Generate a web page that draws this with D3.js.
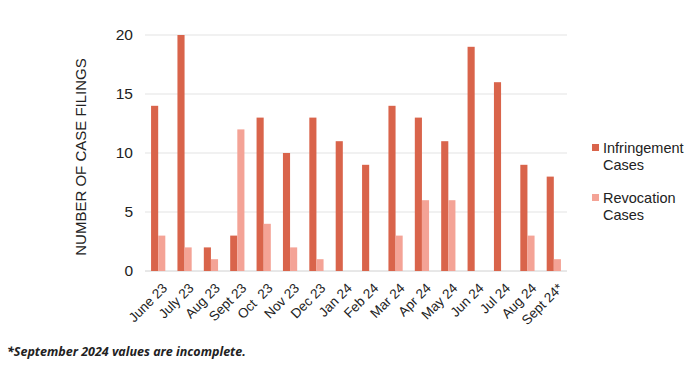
<!DOCTYPE html>
<html>
<head>
<meta charset="utf-8">
<script src="https://cdn.jsdelivr.net/npm/d3@7"></script>
<style>
  body { margin: 0; background: #fff; }
  text { font-family: Arial, "Liberation Sans", sans-serif; fill: #222; }
</style>
</head>
<body>
<div id="chart"></div>
<script>
"use strict"
// Data
var months = ["June 23", "July 23", "Aug 23", "Sept 23", "Oct  23", "Nov 23", "Dec 23", "Jan 24",
              "Feb 24", "Mar 24", "Apr 24", "May 24", "Jun 24", "Jul 24", "Aug 24", "Sept 24*"];
var infringement = [14, 20, 2, 3, 13, 10, 13, 11, 9, 14, 13, 11, 19, 16, 9, 8];
var revocation = [3, 2, 1, 12, 4, 2, 1, 0, 0, 3, 6, 6, 0, 0, 3, 1];
var seriesNames = ["Infringement Cases", "Revocation Cases"];
var yTicks = [0, 5, 10, 15, 20];

var width = 700, height = 371;
var margin = {top: 35, right: 133, bottom: 100, left: 145};
var colors = ["#d9644b", "#f4a396"];

var svg = d3.select("#chart").append("svg")
    .attr("width", width)
    .attr("height", height);

var g = svg.append("g")
    .attr("transform", "translate(" + margin.left + "," + margin.top + ")");

var drawWidth = width - margin.left - margin.right;  // 422
var drawHeight = 271 - margin.top;

var xScale = d3.scaleBand().domain(months).range([0, drawWidth]).paddingInner(0.46).paddingOuter(0.23);
var xSub = d3.scaleBand().domain([0, 1]).range([0, xScale.bandwidth()]);
var yScale = d3.scaleLinear().domain([0, 20]).range([drawHeight, 0]);

// Gridlines
g.selectAll(".grid").data(yTicks).enter().append("line")
    .attr("x1", 0).attr("x2", drawWidth)
    .attr("y1", function(d) {return yScale(d)})
    .attr("y2", function(d) {return yScale(d)})
    .attr("stroke", function(d) {return d === 0 ? "#d0d0d0" : "#e3e3e3"})
    .attr("stroke-width", 1);

// Y axis labels
var yAxis = d3.axisLeft(yScale).tickValues(yTicks).tickSize(0).tickPadding(12);
g.append("g").call(yAxis)
    .call(function(s) {s.select(".domain").remove()})
    .selectAll("text")
    .style("font-size", "15.5px")
    .style("font-family", "Arial, 'Liberation Sans', sans-serif")
    .attr("fill", "#222");

// X axis labels
var xAxis = d3.axisBottom(xScale).tickSize(0).tickPadding(0);
g.append("g")
    .attr("transform", "translate(0," + drawHeight + ")")
    .call(xAxis)
    .call(function(s) {s.select(".domain").remove()})
    .selectAll("text")
    .style("font-size", "13.5px")
    .style("font-family", "Arial, 'Liberation Sans', sans-serif")
    .attr("fill", "#222")
    .attr("text-anchor", "end")
    .attr("dy", 0)
    .attr("y", 0)
    .attr("transform", "translate(10,18) rotate(-45)")
    .style("white-space", "pre")
    .attr("xml:space", "preserve");

// Bars
var rows = months.map(function(m, i) {return {month: m, values: [infringement[i], revocation[i]]}});
var groups = g.selectAll(".group").data(rows).enter().append("g")
    .attr("transform", function(d) {return "translate(" + xScale(d.month) + ",0)"});

groups.selectAll("rect").data(function(d) {return d.values}).enter().append("rect")
    .attr("x", function(d, i) {return xSub(i)})
    .attr("width", xSub.bandwidth())
    .attr("y", function(d) {return yScale(d)})
    .attr("height", function(d) {return drawHeight - yScale(d)})
    .attr("fill", function(d, i) {return colors[i]});

// Y axis title
svg.append("text")
    .attr("transform", "translate(86," + (margin.top + drawHeight / 2 + 4) + ") rotate(-90)")
    .attr("text-anchor", "middle")
    .style("font-size", "15px")
    .text("NUMBER OF CASE FILINGS");

// Legend
var legend = svg.selectAll(".legend").data(seriesNames).enter().append("g")
    .attr("transform", function(d, i) {return "translate(592," + (144 + i * 50) + ")"});
legend.append("rect").attr("width", 7).attr("height", 7)
    .attr("fill", function(d, i) {return colors[i]});
legend.append("text")
    .attr("x", 11).attr("y", 9)
    .style("font-size", "14.5px")
    .selectAll("tspan").data(function(d) {return d.split(" ")}).enter().append("tspan")
    .attr("x", 11)
    .attr("dy", function(d, i) {return i === 0 ? 0 : 16.5})
    .text(function(d) {return d});

// Footnote
svg.append("text")
    .attr("x", 7).attr("y", 356)
    .style("font-family", "'Open Sans', Lato, sans-serif")
    .style("font-size", "12.5px")
    .style("font-weight", "bold")
    .style("font-style", "italic")
    .attr("fill", "#333")
    .text("*September 2024 values are incomplete.");
</script>
</body>
</html>
